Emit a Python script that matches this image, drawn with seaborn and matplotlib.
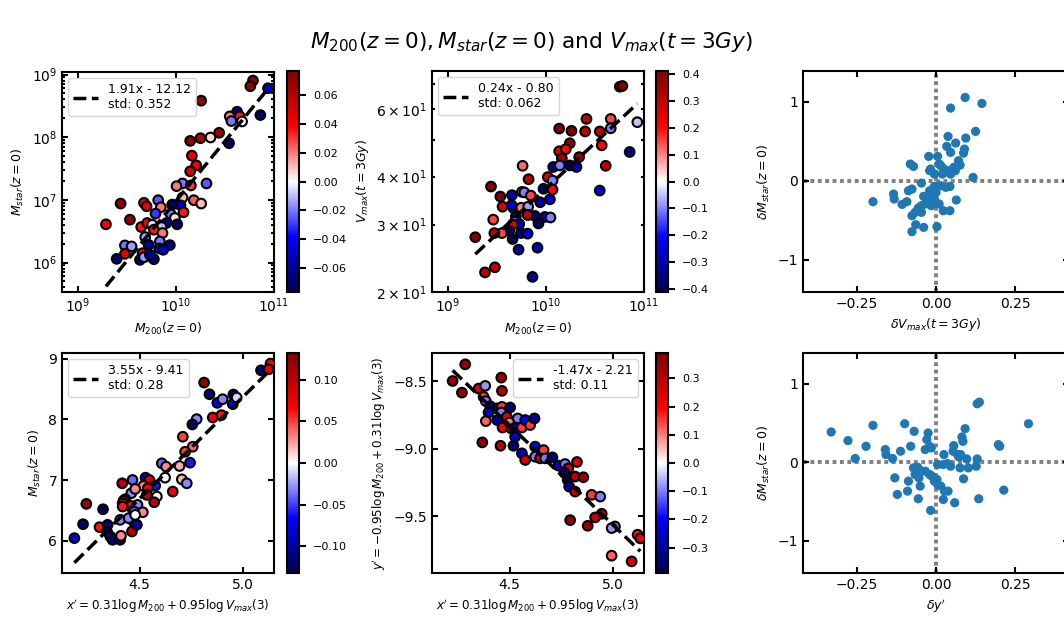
import numpy as np
import pandas as pd
import matplotlib
matplotlib.use("Agg")
import matplotlib.pyplot as plt
import seaborn as sns
from matplotlib.ticker import NullLocator
from matplotlib.colors import Normalize
from matplotlib.cm import ScalarMappable

plt.rcParams['font.family'] = ['DejaVu Sans']
plt.rcParams['axes.linewidth'] = 1.5

# ---------------- data ----------------
# Panel 1: log10 M200 vs log10 Mstar, coloured by residual
p1_logm200 = [10.786,10.759,10.939,10.258,10.624,10.861,10.549,10.651,10.566,10.675,
              10.441,10.353,10.251,10.146,10.542,10.163,10.207,10.146,10.068,10.312,
              10.007,10.153,10.183,10.258,10.068,10.047,9.963,9.437,9.675,9.702,
              9.820,9.847,9.793,9.532,9.288,9.647,9.708,9.759,9.949,10.078,
              9.990,9.905,10.014,9.854,9.776,9.864,9.688,9.837,9.722,9.831,
              9.939,9.871,9.481,9.549,9.481,9.397,9.634,9.661,9.692,9.776,9.675,9.736]
p1_logmstar = [8.904,8.813,8.781,8.583,8.406,8.353,8.332,8.332,8.257,8.251,
               8.070,7.995,7.984,7.941,7.904,7.706,7.551,7.455,7.262,7.262,
               7.219,7.230,6.995,6.941,7.037,6.914,6.925,6.941,6.952,6.898,
               6.995,6.882,6.781,6.684,6.610,6.567,6.631,6.604,6.770,6.802,
               6.711,6.631,6.610,6.567,6.524,6.471,6.406,6.337,6.283,6.225,
               6.278,6.203,6.273,6.257,6.139,6.059,6.043,6.150,6.096,6.053,6.086,6.123]
p1_color = [0.07,0.07,-0.05,0.07,-0.065,-0.07,0.02,0.035,-0.02,0.0,
            0.065,0.005,0.06,0.07,-0.07,0.045,0.04,0.05,-0.02,-0.025,
            0.02,0.03,0.025,0.01,0.01,-0.05,-0.07,0.07,0.04,0.045,
            -0.025,0.02,-0.03,0.07,0.04,0.035,0.04,-0.005,-0.02,0.035,
            0.005,-0.065,-0.07,-0.01,0.035,0.02,-0.015,-0.02,-0.06,-0.05,
            -0.065,-0.05,-0.02,-0.015,0.045,-0.07,-0.07,0.04,0.005,-0.065,-0.015,-0.06]
p1_fit = [1.91, -12.12]
p1_label = "1.91x - 12.12\nstd: 0.352"
p1_cbar_lim = 0.077
p1_cbar_ticks = [-0.06, -0.04, -0.02, 0.00, 0.02, 0.04, 0.06]

# Panel 2: log10 M200 vs Vmax(t=3Gy)
p2_logm200 = [10.753,10.780,10.932,10.661,10.661,10.854,10.414,10.136,10.261,10.400,
              10.549,10.569,10.244,10.136,10.203,10.163,10.339,10.075,10.142,10.244,
              10.312,10.610,10.549,9.763,9.824,10.020,10.068,9.976,10.068,9.654,
              9.756,9.780,9.847,9.942,10.041,9.559,9.671,9.749,9.820,9.441,
              9.536,9.464,9.651,9.695,9.820,9.888,9.990,10.047,9.925,9.685,
              9.729,9.661,9.627,9.814,9.553,9.475,9.661,9.746,9.814,9.281,
              9.722,9.915,9.380,9.481,9.864]
p2_vmax = [68.7,69.0,55.5,56.6,53.5,46.4,56.6,53.4,52.7,52.5,
           52.5,48.3,48.9,46.6,47.2,44.7,45.0,42.4,42.8,42.8,
           42.4,42.7,36.8,42.7,39.4,39.9,39.1,37.2,37.0,35.8,
           36.5,36.4,35.7,34.3,34.9,33.4,33.1,33.2,33.4,37.7,
           35.5,30.9,33.7,31.5,31.8,31.6,31.4,31.3,30.2,30.5,
           30.1,30.0,28.9,31.8,28.5,28.5,27.5,28.5,28.4,27.8,
           25.8,26.1,22.5,23.2,21.9]
p2_color = [0.4,0.4,-0.05,0.15,-0.1,-0.35,0.3,0.4,0.4,0.3,
            0.3,0.2,0.38,0.25,0.2,0.35,0.35,-0.35,-0.1,-0.4,
            -0.3,0.3,-0.25,0.12,0.3,0.25,-0.1,-0.35,0.2,-0.3,
            0.12,-0.1,0.15,-0.3,-0.25,0.25,0.4,0.1,-0.08,0.4,
            0.4,0.15,-0.25,-0.35,-0.3,-0.35,-0.3,-0.1,-0.38,-0.1,
            -0.3,0.25,-0.4,0.3,0.15,0.3,-0.4,-0.35,-0.25,0.4,
            -0.3,-0.3,0.3,0.3,-0.3]
p2_fit = [0.238, -0.809]
p2_label = "0.24x - 0.80\nstd: 0.062"
p2_cbar_lim = 0.41
p2_cbar_ticks = [-0.4, -0.3, -0.2, -0.1, 0.0, 0.1, 0.2, 0.3, 0.4]

# Panel 3: residuals
p3_dvmax = [0.092,0.046,0.145,0.125,0.038,0.094,0.034,0.062,0.090,0.087,
            0.046,-0.081,-0.071,-0.023,0.005,-0.017,0.015,0.025,0.036,0.056,
            0.071,0.076,0.061,0.046,0.020,-0.005,-0.020,0.010,0.117,-0.046,
            -0.005,0.015,0.031,0.044,-0.076,-0.087,-0.134,-0.199,-0.132,-0.107,
            -0.092,-0.039,-0.025,-0.013,0.000,-0.046,-0.034,-0.015,0.010,0.023,
            0.044,0.064,-0.056,-0.046,-0.066,-0.076,-0.064,-0.039,-0.076,0.003,
            -0.005,-0.020]
p3_dmstar = [1.055,0.920,0.979,0.625,0.561,0.540,0.435,0.477,0.401,0.350,
             0.359,0.211,0.181,0.308,0.308,0.148,0.190,0.148,0.127,0.169,
             0.253,0.198,0.127,0.084,0.084,0.084,0.127,0.211,0.042,-0.030,
             -0.072,-0.063,-0.084,-0.072,-0.105,-0.127,-0.169,-0.266,-0.232,-0.300,
             -0.266,-0.198,-0.232,-0.190,-0.148,-0.316,-0.295,-0.316,-0.295,-0.380,
             -0.380,-0.245,-0.346,-0.401,-0.401,-0.443,-0.557,-0.591,-0.646,-0.582,
             -0.232,-0.127]

# Panel 4: x' vs log Mstar
p4_xp = [5.089,5.135,5.126,4.813,4.839,4.877,4.903,4.955,4.952,4.971,
         4.855,4.897,4.777,4.756,4.710,4.758,4.721,4.745,4.608,4.629,
         4.694,4.624,4.705,4.729,4.661,4.529,4.548,4.416,4.466,4.576,
         4.519,4.540,4.460,4.479,4.431,4.535,4.584,4.571,4.423,4.458,
         4.418,4.490,4.474,4.516,4.418,4.242,4.323,4.226,4.184,4.306,
         4.345,4.342,4.358,4.369,4.406,4.410,4.463,4.471,4.487,4.406,4.447,4.479]
p4_logmstar = [8.808,8.918,8.825,8.606,8.414,8.272,8.332,8.409,8.250,8.360,
               8.031,8.070,8.004,7.916,7.714,7.550,7.467,7.287,7.276,7.221,
               7.232,7.040,7.013,6.947,6.811,7.040,7.002,6.947,7.002,6.909,
               6.904,6.865,6.783,6.854,6.685,6.756,6.729,6.635,6.663,6.575,
               6.619,6.592,6.482,6.471,6.564,6.608,6.520,6.274,6.044,6.225,
               6.263,6.154,6.072,6.017,6.017,6.083,6.154,6.318,6.263,6.345,6.373,6.427]
p4_color = [-0.12,0.07,0.08,0.12,-0.12,-0.07,-0.03,-0.12,-0.07,-0.01,
            0.07,0.06,-0.03,-0.12,0.05,0.04,0.05,-0.06,-0.04,0.03,
            0.02,0.0,0.02,-0.03,0.07,-0.1,0.08,0.1,-0.04,-0.06,
            0.03,0.07,-0.03,0.03,0.08,0.1,0.0,0.1,0.08,0.06,
            0.1,-0.03,-0.04,0.03,0.06,0.12,-0.13,-0.12,-0.08,0.06,
            -0.12,-0.1,-0.08,-0.12,-0.12,0.03,0.1,-0.08,-0.1,-0.03,-0.03,0.0]
p4_fit = [3.34, -8.335]
p4_label = "3.55x - 9.41\nstd: 0.28"
p4_cbar_lim = 0.132
p4_cbar_ticks = [-0.10, -0.05, 0.00, 0.05, 0.10]

# Panel 5: x' vs y'
p5_xp = [4.285,4.224,4.269,4.350,4.382,4.374,4.385,4.406,4.398,4.385,
         4.439,4.460,4.463,4.463,4.460,4.440,4.466,4.487,4.503,4.508,
         4.500,4.527,4.540,4.560,4.576,4.600,4.621,4.368,4.456,4.519,
         4.527,4.560,4.576,4.624,4.624,4.665,4.648,4.673,4.708,4.737,
         4.769,4.785,4.766,4.827,4.782,4.818,4.858,4.789,4.818,4.898,
         4.940,4.947,4.915,4.794,4.879,5.011,4.995,4.995,5.121,5.134,5.092]
p5_yp = [-8.375,-8.498,-8.584,-8.554,-8.534,-8.615,-8.647,-8.684,-8.731,-8.795,
         -8.701,-8.473,-8.571,-8.689,-8.731,-8.787,-8.842,-8.763,-8.694,-8.849,
         -8.805,-8.842,-8.775,-8.842,-8.787,-8.824,-8.775,-8.952,-8.977,-8.977,
         -8.910,-9.033,-9.082,-8.984,-9.058,-9.009,-9.070,-9.070,-9.063,-9.124,
         -9.112,-9.144,-9.176,-9.097,-9.230,-9.205,-9.210,-9.279,-9.316,-9.340,
         -9.353,-9.480,-9.507,-9.527,-9.569,-9.574,-9.586,-9.790,-9.635,-9.662,-9.832]
p5_color = [0.35,0.35,0.35,0.25,-0.08,0.15,-0.1,-0.35,-0.25,0.12,
            -0.3,0.35,0.3,0.15,-0.1,-0.3,0.2,0.25,-0.35,0.35,
            0.1,-0.3,-0.1,0.15,-0.2,0.15,-0.3,0.35,0.3,-0.35,
            -0.25,-0.25,0.25,-0.2,-0.1,0.15,0.25,-0.1,-0.35,-0.25,
            -0.1,0.25,-0.35,0.25,-0.35,0.3,0.35,-0.3,0.3,0.15,
            -0.1,0.3,0.28,0.35,0.35,-0.1,-0.08,0.12,0.18,0.22,0.25]
p5_fit = [-1.47, -2.21]
p5_label = "-1.47x - 2.21\nstd: 0.11"
p5_cbar_lim = 0.39
p5_cbar_ticks = [-0.3, -0.2, -0.1, 0.0, 0.1, 0.2, 0.3]

# Panel 6: residuals
p6_dyp = [-0.331,-0.199,-0.099,-0.278,-0.221,-0.255,-0.160,-0.158,-0.137,-0.112,
          -0.080,-0.069,-0.025,-0.029,-0.034,-0.015,-0.020,0.025,0.056,0.054,
          0.068,0.092,0.082,0.085,0.078,0.097,0.072,0.130,0.137,0.292,
          0.197,0.201,0.130,0.127,0.102,0.076,0.087,0.046,0.023,0.005,
          0.036,-0.071,-0.058,-0.046,-0.066,-0.054,-0.087,-0.050,-0.034,-0.020,
          -0.013,0.005,0.015,0.027,0.038,0.023,0.059,0.135,0.214,-0.130,
          -0.122,-0.090,-0.056,-0.017,-0.005,0.003]
p6_dmstar = [0.385,0.469,0.490,0.275,0.203,0.047,0.161,0.097,0.047,0.140,
             0.203,0.393,0.372,0.288,0.161,0.182,0.203,0.097,0.211,0.140,
             0.097,0.427,0.321,0.266,0.097,0.042,0.068,0.744,0.765,0.490,
             0.224,0.203,0.042,-0.051,-0.072,-0.072,-0.211,-0.051,-0.030,-0.030,
             -0.017,-0.072,-0.063,-0.114,-0.156,-0.199,-0.241,-0.304,-0.114,-0.156,
             -0.178,-0.283,-0.304,-0.368,-0.368,-0.474,-0.516,-0.465,-0.355,-0.199,
             -0.410,-0.368,-0.465,-0.613,-0.241,-0.220]

# ---------------- figure ----------------
W, H = 1064, 624
fig = plt.figure(figsize=(W / 100, H / 100), dpi=100)
LABEL_FS = 9
LONG_LABEL_FS = 8.6
LEGEND_FS = 9


def add_ax(left, top, right, bottom):
    return fig.add_axes([left / W, 1 - bottom / H, (right - left) / W, (bottom - top) / H])


def style_ax(ax):
    ax.tick_params(which='both', direction='in', top=True, right=True, width=1.5,
                   labelsize=10, color='black')
    ax.tick_params(which='major', length=4.5)
    ax.tick_params(which='minor', length=2.5)
    for s in ax.spines.values():
        s.set_linewidth(1.5)


def colored_panel(ax, cax, x, y, c, lim, ticks, fit, label, loc, logx=False, logy=False):
    df = pd.DataFrame({'x': x, 'y': y, 'c': c})
    sns.scatterplot(data=df, x='x', y='y', hue='c', palette='seismic', hue_norm=(-lim, lim),
                    s=48, edgecolor='black', linewidth=1.5, legend=False, ax=ax, zorder=3)
    xs = np.array([df['x'].min(), df['x'].max()])
    lx = np.log10(xs) if logx else xs
    ly = fit[0] * lx + fit[1]
    ys = 10 ** ly if logy else ly
    ax.plot(xs, ys, color='black', ls='--', lw=2.5, zorder=4, label=label)
    ax.legend(loc=loc, fontsize=LEGEND_FS, handlelength=2.0, borderpad=0.4,
              labelspacing=0.2, handletextpad=0.8)
    sm = ScalarMappable(norm=Normalize(-lim, lim), cmap='seismic')
    cb = fig.colorbar(sm, cax=cax)
    cb.set_ticks(ticks)
    cb.outline.set_linewidth(1.5)
    cax.tick_params(labelsize=8, width=1.5, length=5, direction='out', pad=5)
    style_ax(ax)


def resid_panel(ax, x, y):
    df = pd.DataFrame({'x': x, 'y': y})
    ax.axhline(0, color='gray', ls=(0, (1, 0.9)), lw=2.8, zorder=1)
    ax.axvline(0, color='gray', ls=(0, (1, 0.9)), lw=2.8, zorder=1)
    sns.scatterplot(data=df, x='x', y='y', s=44, color='#1f77b4', edgecolor='none',
                    linewidth=0, legend=False, ax=ax, zorder=3)
    ax.set_xlim(-0.42, 0.42)
    ax.set_ylim(-1.41, 1.39)
    ax.set_xticks([-0.25, 0.0, 0.25])
    ax.set_yticks([-1, 0, 1])
    style_ax(ax)


ax1 = add_ax(62, 72, 274, 292); cax1 = add_ax(287, 71, 299, 292)
ax2 = add_ax(432, 71, 644, 292); cax2 = add_ax(656, 71, 668, 292)
ax3 = add_ax(803, 71, 1069, 292)
ax4 = add_ax(62, 353, 274, 573); cax4 = add_ax(287, 353, 299, 573)
ax5 = add_ax(432, 353, 644, 573); cax5 = add_ax(656, 353, 668, 573)
ax6 = add_ax(803, 353, 1069, 573)

# Panel 1
for a in (ax1, ax2):
    a.set_xscale('log')
    a.set_yscale('log')
colored_panel(ax1, cax1, 10 ** np.array(p1_logm200), 10 ** np.array(p1_logmstar), p1_color,
              p1_cbar_lim, p1_cbar_ticks, p1_fit, p1_label, 'upper left', logx=True, logy=True)
ax1.set_xlim(10 ** 8.84, 1e11)
ax1.set_ylim(10 ** 5.53, 10 ** 9.04)
ax1.xaxis.set_minor_locator(NullLocator())
ax1.set_xlabel(r'$M_{200}(z=0)$', fontsize=LABEL_FS)
ax1.set_ylabel(r'$M_{star}(z=0)$', fontsize=LABEL_FS)

# Panel 2
colored_panel(ax2, cax2, 10 ** np.array(p2_logm200), p2_vmax, p2_color,
              p2_cbar_lim, p2_cbar_ticks, p2_fit, p2_label, 'upper left', logx=True, logy=True)
ax2.set_xlim(10 ** 8.84, 1e11)
ax2.set_ylim(20, 75.5)
ax2.xaxis.set_minor_locator(NullLocator())
ax2.set_xlabel(r'$M_{200}(z=0)$', fontsize=LABEL_FS)
ax2.set_ylabel(r'$V_{max}(t=3Gy)$', fontsize=LABEL_FS)

# Panel 3
resid_panel(ax3, p3_dvmax, p3_dmstar)
ax3.set_xlabel(r'$\delta V_{max}(t=3Gy)$', fontsize=LABEL_FS)
ax3.set_ylabel(r'$\delta M_{star}(z=0)$', fontsize=LABEL_FS)

# Panel 4
colored_panel(ax4, cax4, p4_xp, p4_logmstar, p4_color, p4_cbar_lim, p4_cbar_ticks,
              p4_fit, p4_label, 'upper left')
ax4.set_xlim(4.124, 5.152)
ax4.set_ylim(5.47, 9.093)
ax4.set_xticks([4.5, 5.0])
ax4.set_yticks([6, 7, 8, 9])
ax4.set_xlabel(r"$x' = 0.31\log M_{200} + 0.95\log V_{max}(3)$", fontsize=LONG_LABEL_FS)
ax4.set_ylabel(r'$M_{star}(z=0)$', fontsize=LABEL_FS)

# Panel 5
colored_panel(ax5, cax5, p5_xp, p5_yp, p5_color, p5_cbar_lim, p5_cbar_ticks,
              p5_fit, p5_label, 'upper right')
ax5.set_xlim(4.124, 5.152)
ax5.set_ylim(-9.918, -8.291)
ax5.set_xticks([4.5, 5.0])
ax5.set_yticks([-9.5, -9.0, -8.5])
ax5.set_xlabel(r"$x' = 0.31\log M_{200} + 0.95\log V_{max}(3)$", fontsize=LONG_LABEL_FS)
ax5.set_ylabel(r"$y' = -0.95\log M_{200} + 0.31\log V_{max}(3)$", fontsize=LONG_LABEL_FS)

# Panel 6
resid_panel(ax6, p6_dyp, p6_dmstar)
ax6.set_xlabel(r"$\delta y'$", fontsize=LABEL_FS)
ax6.set_ylabel(r'$\delta M_{star}(z=0)$', fontsize=LABEL_FS)

fig.suptitle(r'$M_{200}(z=0), M_{star}(z=0)$ and $V_{max}(t=3Gy)$', fontsize=15.6,
             y=1 - 42 / H, va='center')

fig.savefig('out.png', dpi=100)
